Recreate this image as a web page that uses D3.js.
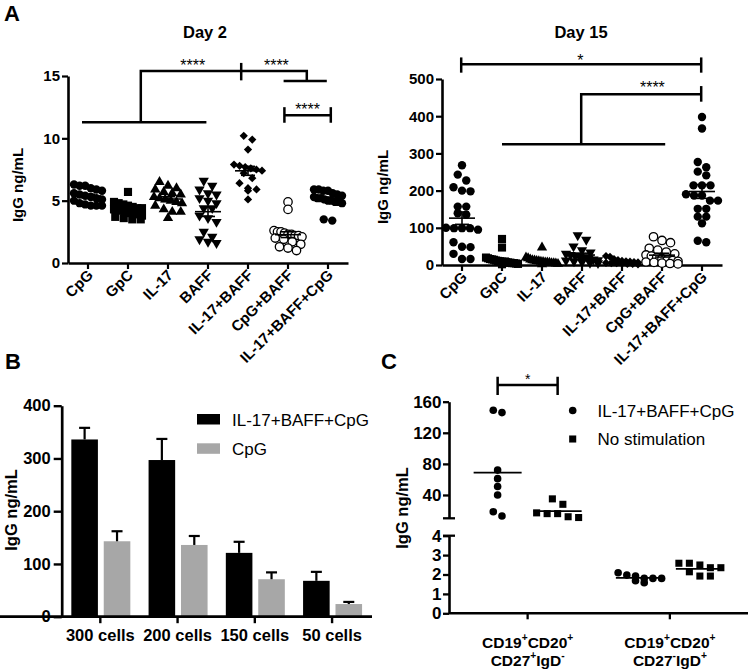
<!DOCTYPE html>
<html><head><meta charset="utf-8">
<script src="https://cdn.jsdelivr.net/npm/d3@7"></script>
<style>
body{margin:0;background:#fff;}
svg{display:block;font-family:"Liberation Sans",Arial,Helvetica,sans-serif;}
</style></head><body>
<svg id="c" width="752" height="669"></svg>
<script>
// ---------------- DATA ----------------
const catsA = ["CpG","GpC","IL-17","BAFF","IL-17+BAFF","CpG+BAFF","IL-17+BAFF+CpG"];
// Day 2 (IgG ng/mL)
const day2_CpG      = [6.3,6.2,6.2,6.0,5.9,5.8,5.6,5.5,5.4,5.3,5.2,5.1,5.0,4.8,4.7,4.6,4.6,4.6];
const day2_GpC      = [5.7,4.9,4.8,4.7,4.6,4.5,4.4,4.4,4.3,4.2,4.1,4.0,3.9,3.8,3.7,3.6,3.5,3.5];
const day2_IL17     = [6.5,6.2,6.0,5.9,5.7,5.6,5.5,5.3,5.2,5.1,5.0,4.9,4.8,4.6,4.3,4.1,4.1,3.6];
const day2_BAFF     = [6.6,6.2,5.9,5.6,5.5,5.2,5.0,4.8,4.4,4.4,3.8,3.6,3.3,2.5,2.1,1.9,1.7,1.6];
const day2_IL17BAFF = [10.2,9.9,9.1,7.9,7.8,7.7,7.6,7.5,7.4,7.2,6.8,6.4,6.0,5.9,5.8,5.1];
const day2_CpGBAFF  = [4.9,4.3,2.6,2.5,2.5,2.4,2.3,2.3,2.2,2.2,2.1,2.0,1.9,1.7,1.5,1.3,1.2,1.0];
const day2_All      = [5.9,5.9,5.8,5.8,5.6,5.5,5.4,5.3,5.2,5.2,5.1,5.0,5.0,4.9,4.9,4.8,3.5,3.4];
const ticksDay2 = [0,5,10,15];
// Day 15
const day15_CpG      = [268,243,227,209,200,198,157,157,139,135,100,95,99,99,99,61,49,48,30,16,16];
const day15_GpC      = [70,47,20,18,16,15,14,12,11,10,9,8,8,7,6,5,5,4,3,2];
const day15_IL17     = [47,20,18,15,13,12,11,10,9,8,7,7,6,5,5,4,3,2];
const day15_BAFF     = [80,68,50,40,34,30,27,25,22,20,18,15,13,12,10,8,6,5];
const day15_IL17BAFF = [24,22,16,13,11,10,9,8,7,6,5,5,4,3,3,2];
const day15_CpGBAFF  = [76,66,60,45,40,35,30,27,24,20,17,14,12,10,8,7,5,4,3];
const day15_All      = [398,367,277,263,251,241,214,214,214,190,187,187,173,173,151,151,130,130,112,65,61];
const ticksDay15 = [0,100,200,300,400,500];
// Panel B
const catsB = ["300 cells","200 cells","150 cells","50 cells"];
const seriesB = ["IL-17+BAFF+CpG","CpG"];
const barsB_combo = [336,297,121,68];
const errB_combo  = [22,40,21,17];
const barsB_cpg   = [143,136,71,24];
const errB_cpg    = [19,17,13,4];
const ticksB = [0,100,200,300,400];
// Panel C
const catsC = ["CD19+CD20+ CD27+IgD-","CD19+CD20+ CD27-IgD+"];
const seriesC = ["IL-17+BAFF+CpG","No stimulation"];
const c1_combo  = [146,149,72,61,51,40,13,18.5];
const c1_nostim = [12,16,35,16,28,17,11];
const c2_combo  = [2.09,1.68,1.92,1.80,1.80,1.97,1.58,1.80];
const c2_nostim = [2.58,2.35,1.92,2.58,2.14,2.35,1.92,2.49];
const ticksCUpper = [40,80,120,160];
const ticksCLower = [0,1,2,3,4];

// ---------------- HELPERS ----------------
const svg = d3.select("#c");
const K = "#000";

function styleAxis(g, dw, tw, fs, bold) {
  g.select(".domain").attr("stroke",K).attr("stroke-width",dw);
  g.selectAll(".tick line").attr("stroke",K).attr("stroke-width",tw);
  g.selectAll(".tick text").attr("fill",K).attr("font-size",fs)
    .attr("font-weight",bold?"bold":"normal");
  g.attr("font-family",null);
}
function text(x,y,t,o={}) {
  return svg.append("text").attr("x",x).attr("y",y).text(t)
    .attr("font-size",o.fs||14).attr("font-weight",o.w||"normal")
    .attr("text-anchor",o.a||"start").attr("fill",K);
}
function swarm(vals, y, D, maxW) {
  const pts = vals.map(v=>({v, py:y(v)})).sort((a,b)=>a.py-b.py);
  const rows=[]; let cur=null;
  for (const p of pts) {
    if (cur && p.py - cur[0].py < D*0.75) cur.push(p); else { cur=[p]; rows.push(cur); }
  }
  rows.forEach(r=>{
    const n=r.length, s = n>1 ? Math.min(D, maxW/(n-1)) : 0;
    r.forEach((p,i)=>p.dx=(i-(n-1)/2)*s);
  });
  return pts;
}
function marker(g, type, x, y) {
  let p;
  if (type==="circle"||type==="open") {
    p = g.append("circle").attr("cx",x).attr("cy",y).attr("r",4.2);
    if (type==="open") p.attr("fill","#fff").attr("stroke",K).attr("stroke-width",1.3);
    else p.attr("fill",K);
  } else if (type==="square") {
    p = g.append("path").attr("d",d3.symbol(d3.symbolSquare,66)()).attr("transform",`translate(${x},${y})`).attr("fill",K);
  } else if (type==="tri") {
    p = g.append("path").attr("d",d3.symbol(d3.symbolTriangle,46)()).attr("transform",`translate(${x},${y})`).attr("fill",K);
  } else if (type==="triDown") {
    p = g.append("path").attr("d",d3.symbol(d3.symbolTriangle,46)()).attr("transform",`translate(${x},${y}) rotate(180)`).attr("fill",K);
  } else if (type==="diamond") {
    p = g.append("path").attr("d",d3.symbol(d3.symbolSquare,34)()).attr("transform",`translate(${x},${y}) rotate(45)`).attr("fill",K);
  }
  return p;
}
const markersA = ["circle","square","tri","triDown","diamond","open","circle"];

function scatterPanel(cfg) {
  const g = svg.append("g");
  const x = d3.scaleBand().domain(catsA).range(cfg.xRange);
  const y = d3.scaleLinear().domain([0,cfg.yMax]).range([cfg.yBottom,cfg.yTop]);
  const step = x.step(), c0 = x(catsA[0]) + x.bandwidth()/2;
  const ix = i => c0 + i*step;

  const ya = g.append("g").attr("transform",`translate(${cfg.xRange[0]},0)`)
    .call(d3.axisLeft(y).tickValues(cfg.ticks).tickSize(6).tickSizeOuter(0).tickPadding(2));
  styleAxis(ya, 2.6, 2.2, 15, true);
  const xa = g.append("g").attr("transform",`translate(0,${cfg.yBottom})`)
    .call(d3.axisBottom(x).tickSize(6).tickSizeOuter(0));
  styleAxis(xa, 2.6, 2.2, 15, true);
  xa.selectAll(".tick text").attr("y",null).attr("dy",null).attr("text-anchor","end")
    .attr("transform","translate(6,13) rotate(-45)");

  cfg.groups.forEach((vals,i)=>{
    const cx = ix(i);
    swarm(vals, y, 8.5, cfg.maxW).forEach(p=> marker(g, markersA[i], cx+p.dx, p.py));
    const m = d3.mean(vals), se = d3.deviation(vals)/Math.sqrt(vals.length);
    const lg = g.append("g").attr("stroke",K).attr("stroke-width",1.6);
    lg.append("line").attr("x1",cx-13).attr("x2",cx+13).attr("y1",y(m)).attr("y2",y(m));
    lg.append("line").attr("x1",cx).attr("x2",cx).attr("y1",y(m-se)).attr("y2",y(m+se));
    [m-se,m+se].forEach(v=>lg.append("line").attr("x1",cx-7).attr("x2",cx+7).attr("y1",y(v)).attr("y2",y(v)));
  });

  cfg.brackets.forEach(b=>{
    g.append("path").attr("d", d3.line().x(d=>ix(d[0])).y(d=>y(d[1]))(b))
      .attr("fill","none").attr("stroke",K).attr("stroke-width",2.5);
  });
  cfg.stars.forEach(s=>{
    text(ix(s.i), y(s.v)+0.575*16, s.t, {fs:16, a:"middle"});
  });
  text(cfg.titleX, 38, cfg.title, {fs:16.5, w:"bold", a:"middle"});
  svg.append("text").attr("transform",`translate(${cfg.labX},${cfg.labY}) rotate(-90)`)
    .attr("text-anchor","middle").attr("font-size",15).attr("font-weight","bold").text("IgG ng/mL");
}

// ---------------- PANEL A ----------------
text(4,21,"A",{fs:22,w:"bold"});
scatterPanel({
  xRange:[68,348], yMax:15, yBottom:263, yTop:76, ticks:ticksDay2, maxW:28,
  groups:[day2_CpG,day2_GpC,day2_IL17,day2_BAFF,day2_IL17BAFF,day2_CpGBAFF,day2_All],
  title:"Day 2", titleX:205, labX:22.5, labY:185,
  brackets:[
    [[-0.15,11.3],[2.96,11.3]],
    [[1.32,11.3],[1.32,15.4],[5.47,15.4],[5.47,14.6]],
    [[4.89,14.6],[5.97,14.6]],
    [[3.83,16.05],[3.83,14.65]],
    [[4.91,12.5],[4.91,11.25]],
    [[4.91,11.85],[6.07,11.85]],
    [[6.07,12.5],[6.07,11.25]]
  ],
  stars:[{t:"****",i:2.62,v:16.17},{t:"****",i:4.71,v:16.17},{t:"****",i:5.49,v:12.6}]
});
scatterPanel({
  xRange:[442,722], yMax:500, yBottom:265, yTop:79, ticks:ticksDay15, maxW:32,
  groups:[day15_CpG,day15_GpC,day15_IL17,day15_BAFF,day15_IL17BAFF,day15_CpGBAFF,day15_All],
  title:"Day 15", titleX:581, labX:387.5, labY:187,
  brackets:[
    [[-0.02,558],[-0.02,517]],
    [[-0.02,539.5],[5.98,539.5]],
    [[5.98,558],[5.98,517]],
    [[2.98,324.5],[2.98,459],[5.98,459]],
    [[5.98,481],[5.98,439]],
    [[1.0,324.5],[5.08,324.5]]
  ],
  stars:[{t:"*",i:2.96,v:560},{t:"****",i:4.76,v:488}]
});

// ---------------- PANEL B ----------------
text(5,369,"B",{fs:22,w:"bold"});
(function(){
  const g = svg.append("g");
  const x = d3.scaleBand().domain(catsB).range([61.7,370.7]);
  const x1 = d3.scaleBand().domain(seriesB).range([-29,30]).paddingInner(0.18);
  const y = d3.scaleLinear().domain([0,400]).range([616.7,405.7]);
  const colors = ["#000","#a7a7a7"];
  const vals = [barsB_combo, barsB_cpg], errs = [errB_combo, errB_cpg];
  seriesB.forEach((s,si)=>{
    catsB.forEach((c,ci)=>{
      const cx = x(c)+x.bandwidth()/2, bx = cx + x1(s), bw = x1.bandwidth();
      const v = vals[si][ci], e = errs[si][ci];
      g.append("rect").attr("x",bx).attr("y",y(v)).attr("width",bw).attr("height",y(0)-y(v)).attr("fill",colors[si]);
      const mx = bx + bw/2;
      g.append("line").attr("x1",mx).attr("x2",mx).attr("y1",y(v)).attr("y2",y(v+e)).attr("stroke",K).attr("stroke-width",2.2);
      g.append("line").attr("x1",mx-5.5).attr("x2",mx+5.5).attr("y1",y(v+e)).attr("y2",y(v+e)).attr("stroke",K).attr("stroke-width",2.2);
    });
  });
  const ya = g.append("g").attr("transform","translate(61.7,0)")
    .call(d3.axisLeft(y).tickValues(ticksB).tickSize(8).tickSizeOuter(0).tickPadding(3));
  styleAxis(ya, 2.7, 2.4, 16.5, true);
  const xa = g.append("g").attr("transform","translate(0,616.7)")
    .call(d3.axisBottom(x).tickSize(6.5).tickSizeOuter(0));
  styleAxis(xa, 2.7, 2.4, 16.5, true);
  xa.select(".domain").attr("d","M0,0H372");
  xa.selectAll(".tick text").attr("dy",null).attr("y",24.5);
  // legend
  seriesB.forEach((s,i)=>{
    g.append("rect").attr("x",197).attr("y",414+i*29.3).attr("width",23).attr("height",10.5).attr("fill",colors[i]);
    g.append("text").attr("x",232).attr("y",426+i*28.5).attr("font-size",17).text(s);
  });
  svg.append("text").attr("transform","translate(17,510) rotate(-90)").attr("text-anchor","middle")
    .attr("font-size",16.5).attr("font-weight","bold").text("IgG ng/mL");
})();

// ---------------- PANEL C ----------------
text(381,369,"C",{fs:22,w:"bold"});
(function(){
  const g = svg.append("g");
  const AX = 449;
  const x = d3.scaleBand().domain(catsC).range([456.5,741]);
  const off = {[seriesC[0]]:-30, [seriesC[1]]:30};
  const yU = d3.scaleLinear().domain([10,160]).range([518.3,401.7]);
  const yL = d3.scaleLinear().domain([0,4]).range([613.3,535.7]);
  const yu = g.append("g").attr("transform",`translate(${AX},0)`)
    .call(d3.axisLeft(yU).tickValues(ticksCUpper).tickFormat(d3.format("d")).tickSize(6).tickSizeOuter(0).tickPadding(1.5));
  styleAxis(yu, 2.6, 2.3, 17, true);
  const yl = g.append("g").attr("transform",`translate(${AX},0)`)
    .call(d3.axisLeft(yL).tickValues(ticksCLower).tickFormat(d3.format("d")).tickSize(6).tickSizeOuter(0).tickPadding(1.5));
  styleAxis(yl, 2.6, 2.3, 17, true);
  [yU(10), yL(4)].forEach(yy=> g.append("line").attr("x1",AX-6).attr("x2",AX+6).attr("y1",yy).attr("y2",yy).attr("stroke",K).attr("stroke-width",2.3));
  const xa = g.append("g").attr("transform","translate(0,613.3)")
    .call(d3.axisBottom(x).tickSize(6).tickSizeOuter(0).tickFormat(""));
  styleAxis(xa, 2.6, 2.3, 15, true);
  xa.select(".domain").attr("d",`M${AX},0H748`);

  const groups = [[c1_combo,c1_nostim,yU],[c2_combo,c2_nostim,yL]];
  groups.forEach(([a,b,ys],ci)=>{
    const cx = x(catsC[ci]) + x.bandwidth()/2;
    [[a,seriesC[0],"circle",8.7],[b,seriesC[1],"square",10.5]].forEach(([vals,s,type,D])=>{
      const sx = cx + off[s];
      swarm(vals, ys, D, 44).forEach(p=>{
        if (type==="circle") g.append("circle").attr("cx",sx+p.dx).attr("cy",p.py).attr("r",3.8).attr("fill",K);
        else g.append("path").attr("d",d3.symbol(d3.symbolSquare,50)()).attr("transform",`translate(${sx+p.dx},${p.py})`).attr("fill",K);
      });
      const m = d3.mean(vals);
      g.append("line").attr("x1",sx-24).attr("x2",sx+24).attr("y1",ys(m)).attr("y2",ys(m)).attr("stroke",K).attr("stroke-width",1.8);
    });
    // x labels
    catsC[ci].split(" ").forEach((line,li)=>{
      const fs = 15.5;
      const t = g.append("text").attr("x",cx).attr("y",648+li*18).attr("text-anchor","middle")
        .attr("font-size",fs).attr("font-weight","bold");
      const parts = line.split(/([+\-])/).filter(p=>p!=="");
      let raised=false;
      parts.forEach(p=>{
        const sup = (p==="+"||p==="-");
        const ts = t.append("tspan").text(p);
        if (sup) { ts.attr("font-size",fs*0.66); if(!raised){ ts.attr("dy",-fs*0.42); raised=true; } }
        else if (raised) { ts.attr("dy",fs*0.42); raised=false; }
      });
    });
  });
  // significance bracket
  const c0 = x(catsC[0]) + x.bandwidth()/2;
  const bx1 = c0+off[seriesC[0]], bx2 = c0+off[seriesC[1]];
  g.append("path").attr("d",`M${bx1},${yU(192)}V${yU(168.6)}M${bx1},${yU(181.5)}H${bx2}M${bx2},${yU(192)}V${yU(168.6)}`)
    .attr("fill","none").attr("stroke",K).attr("stroke-width",2.5);
  g.append("text").attr("x",(bx1+bx2)/2).attr("y",yU(193)+0.575*14).attr("text-anchor","middle").attr("font-size",14).text("*");
  // legend
  g.append("circle").attr("cx",572.7).attr("cy",410.5).attr("r",3.8).attr("fill",K);
  g.append("path").attr("d",d3.symbol(d3.symbolSquare,50)()).attr("transform","translate(572.7,439)").attr("fill",K);
  seriesC.forEach((s,i)=> g.append("text").attr("x",597.5).attr("y",416.7+i*28.5).attr("font-size",17).text(s));
  svg.append("text").attr("transform","translate(407.5,508) rotate(-90)").attr("text-anchor","middle")
    .attr("font-size",16.5).attr("font-weight","bold").text("IgG ng/mL");
})();
</script>
</body></html>
